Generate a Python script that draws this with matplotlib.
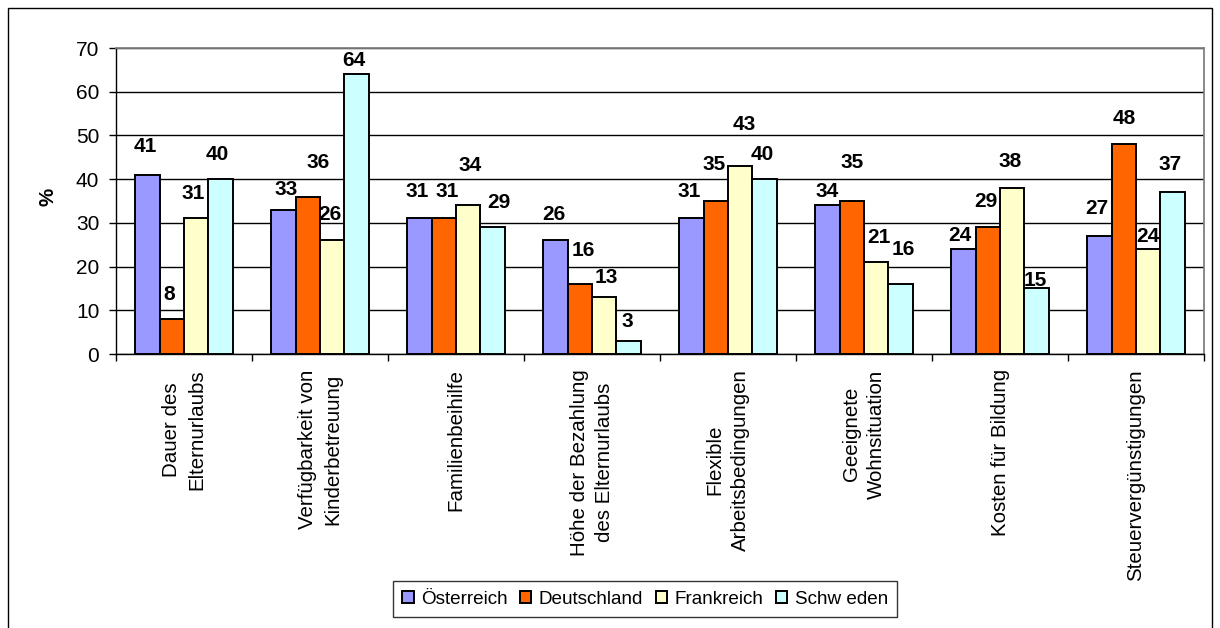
import matplotlib
matplotlib.use("Agg")
import matplotlib.pyplot as plt
import numpy as np
from matplotlib.patches import Rectangle

plt.rcParams['font.family'] = ['Liberation Sans', 'DejaVu Sans']

categories = [
    "Dauer des\nElternurlaubs",
    "Verfügbarkeit von\nKinderbetreuung",
    "Familienbeihilfe",
    "Höhe der Bezahlung\ndes Elternurlaubs",
    "Flexible\nArbeitsbedingungen",
    "Geeignete\nWohnsituation",
    "Kosten für Bildung",
    "Steuervergünstigungen",
]
series_names = ["Österreich", "Deutschland", "Frankreich", "Schw eden"]
oesterreich = [41, 33, 31, 26, 31, 34, 24, 27]
deutschland = [8, 36, 31, 16, 35, 35, 29, 48]
frankreich = [31, 26, 34, 13, 43, 21, 38, 24]
schweden = [40, 64, 29, 3, 40, 16, 15, 37]
y_ticks = [0, 10, 20, 30, 40, 50, 60, 70]
y_label = "%"

colors = ["#9999FF", "#FF6600", "#FFFFCC", "#CCFFFF"]

# label offsets in pixels (dx, dy up) per category, per series
label_offsets = [
    [(-2, 28), (-3, 25), (-3, 25), (-3, 25)],
    [(3, 20), (10, 34), (-2, 26), (-3, 14)],
    [(-2, 27), (3, 27), (2, 40), (6, 25)],
    [(-1, 26), (4, 34), (2, 19.5), (-1, 19)],
    [(-2, 27), (-1.5, 37), (4, 42), (-2, 25)],
    [(0, 14), (0, 38), (3, 25), (3, 35)],
    [(-3, 13.5), (-2, 25.5), (-2, 26), (-1, 8)],
    [(-2, 27), (0, 26), (0, 13), (-3, 27.5)],
]

series = [oesterreich, deutschland, frankreich, schweden]

W, H = 1220, 628
fig = plt.figure(figsize=(W / 100, H / 100), dpi=100)
fig.patch.set_facecolor("white")

# outer frame (bottom edge off-canvas)
fig.add_artist(Rectangle((8 / W, -0.1), (1212 - 8) / W, 1.1 - 8 / H,
                         transform=fig.transFigure, fill=False,
                         edgecolor="black", linewidth=1.0))

ax = fig.add_axes([116 / W, 1 - 354 / H, (1204 - 116) / W, (354 - 48) / H])

n = len(categories)
x = np.arange(n)
bw = 0.18
for j, vals in enumerate(series):
    pos = x + (j - 1.5) * bw
    ax.bar(pos, vals, width=bw, color=colors[j], edgecolor="black",
           linewidth=1.4, label=series_names[j], zorder=3)
    for i, v in enumerate(vals):
        dx, dy = label_offsets[i][j]
        ax.annotate(str(v), (pos[i], v), xytext=(dx, dy),
                    textcoords="offset pixels", ha="center", va="center",
                    fontsize=15, fontweight="bold", zorder=5)

ax.set_xlim(-0.5, n - 0.5)
ax.set_ylim(0, 70)
ax.set_yticks(y_ticks)
ax.yaxis.grid(True, color="black", linewidth=1.0, zorder=0)
ax.set_axisbelow(True)

ax.set_xticks(x)
ax.set_xticklabels(categories, rotation=90, ha="center", va="top",
                   multialignment="center", fontsize=14.8, linespacing=1.45)
ax.tick_params(axis="x", which="major", length=0, pad=11)
ax.set_xticks(np.arange(n + 1) - 0.5, minor=True)
ax.tick_params(axis="x", which="minor", length=5, width=1.0, color="black",
               direction="out")
ax.tick_params(axis="y", length=5, width=1.0, direction="out", pad=7,
               labelsize=15)

for s in ["top", "right"]:
    ax.spines[s].set_color("#808080")
    ax.spines[s].set_linewidth(1.3)
for s in ["left", "bottom"]:
    ax.spines[s].set_color("black")
    ax.spines[s].set_linewidth(1.0)

fig.text(48 / W, 1 - 197 / H, y_label, rotation=90, ha="center", va="center",
         fontsize=14.8, fontweight="bold")

leg = fig.legend(loc="center", bbox_to_anchor=(645 / W, 1 - 599 / H),
                 ncol=4, fontsize=13.6, frameon=True, fancybox=False,
                 edgecolor="black", handlelength=0.6, handleheight=0.6,
                 handletextpad=0.4, columnspacing=0.65, borderpad=0.5,
                 borderaxespad=0)
leg.get_frame().set_linewidth(1.0)

fig.savefig("out.png", dpi=100)
